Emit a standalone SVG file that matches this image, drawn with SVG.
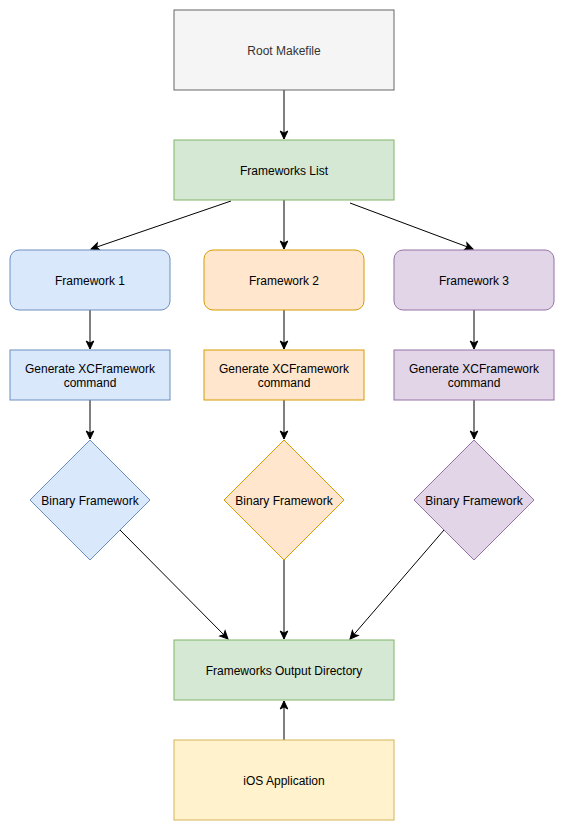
<svg xmlns="http://www.w3.org/2000/svg" width="564" height="831" viewBox="0 0 564 831">
  <style>
    text { font-family: "Liberation Sans", Arial, Helvetica, sans-serif; font-size: 12px; fill: #000; text-anchor: middle; dominant-baseline: central; }
    .gray { fill: #f5f5f5; stroke: #666666; }
    .green { fill: #d5e8d4; stroke: #82b366; }
    .blue { fill: #dae8fc; stroke: #6c8ebf; }
    .orange { fill: #ffe6cc; stroke: #d79b00; }
    .purple { fill: #e1d5e7; stroke: #9673a6; }
    .yellow { fill: #fff2cc; stroke: #d6b656; }
    .edge { fill: none; stroke: #000; stroke-width: 1; marker-end: url(#arrow); }
  </style>
  <defs>
    <marker id="arrow" markerUnits="userSpaceOnUse" markerWidth="10" markerHeight="10" viewBox="0 0 10 10" refX="9" refY="5" orient="auto">
      <path d="M1,1.2 L9,5 L1,8.8 L3,5 Z" fill="#000" stroke="#000" stroke-width="1"/>
    </marker>
  </defs>

  <!-- connectors -->
  <g id="edges">
    <path class="edge" d="M284,90 L284,139"/>
    <path class="edge" d="M231,201 L91,249"/>
    <path class="edge" d="M284,200 L284,249"/>
    <path class="edge" d="M350,203 L473,249"/>
    <path class="edge" d="M90,310 L90,349"/>
    <path class="edge" d="M284,310 L284,349"/>
    <path class="edge" d="M474,310 L474,349"/>
    <path class="edge" d="M90,400 L90,439"/>
    <path class="edge" d="M284,400 L284,439"/>
    <path class="edge" d="M474,400 L474,439"/>
    <path class="edge" d="M120,530 L228,639"/>
    <path class="edge" d="M284,560 L284,639"/>
    <path class="edge" d="M444,530 L350,639"/>
    <path class="edge" d="M284,740 L284,701"/>
  </g>

  <g id="root-makefile">
    <rect class="gray" x="174" y="10" width="220" height="80"/>
    <text x="284" y="51" style="fill:#333333">Root Makefile</text>
  </g>
  <g id="frameworks-list">
    <rect class="green" x="174" y="140" width="220" height="60"/>
    <text x="284" y="171">Frameworks List</text>
  </g>

  <g id="framework-1">
    <rect class="blue" x="10" y="250" width="160" height="60" rx="9" ry="9"/>
    <text x="90" y="281">Framework 1</text>
  </g>
  <g id="framework-2">
    <rect class="orange" x="204" y="250" width="160" height="60" rx="9" ry="9"/>
    <text x="284" y="281">Framework 2</text>
  </g>
  <g id="framework-3">
    <rect class="purple" x="394" y="250" width="160" height="60" rx="9" ry="9"/>
    <text x="474" y="281">Framework 3</text>
  </g>

  <g id="generate-1">
    <rect class="blue" x="10" y="350" width="160" height="50"/>
    <text x="90" y="369">Generate XCFramework</text>
    <text x="90" y="383">command</text>
  </g>
  <g id="generate-2">
    <rect class="orange" x="204" y="350" width="160" height="50"/>
    <text x="284" y="369">Generate XCFramework</text>
    <text x="284" y="383">command</text>
  </g>
  <g id="generate-3">
    <rect class="purple" x="394" y="350" width="160" height="50"/>
    <text x="474" y="369">Generate XCFramework</text>
    <text x="474" y="383">command</text>
  </g>

  <g id="binary-1">
    <path class="blue" d="M90,440 L150,500 L90,560 L30,500 Z"/>
    <text x="90" y="501">Binary Framework</text>
  </g>
  <g id="binary-2">
    <path class="orange" d="M284,440 L344,500 L284,560 L224,500 Z"/>
    <text x="284" y="501">Binary Framework</text>
  </g>
  <g id="binary-3">
    <path class="purple" d="M474,440 L534,500 L474,560 L414,500 Z"/>
    <text x="474" y="501">Binary Framework</text>
  </g>

  <g id="output-directory">
    <rect class="green" x="174" y="640" width="220" height="60"/>
    <text x="284" y="671">Frameworks Output Directory</text>
  </g>
  <g id="ios-application">
    <rect class="yellow" x="174" y="740" width="220" height="80"/>
    <text x="284" y="781">iOS Application</text>
  </g>
</svg>
